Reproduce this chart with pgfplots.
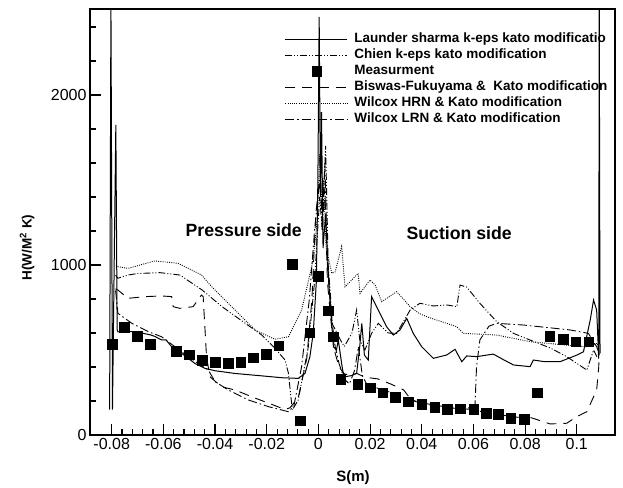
\documentclass[border=0pt]{standalone}
\usepackage{fontspec}
\setmainfont{Liberation Sans}
\usepackage{pgfplots}
\pgfplotsset{compat=1.18}
\pgfplotsset{
  square legend/.style={legend image code/.code={%
    \path (0bp,0bp) (62bp,0bp);
    \draw[##1] plot coordinates {(31bp,0bp)};}},
}

% Heat transfer coefficient along the blade surface
\pgfplotstableread{
s H
-0.0798 535
-0.0751 634
-0.0701 582
-0.0651 535
-0.0550 492
-0.0500 471
-0.0449 439
-0.0399 428
-0.0349 422
-0.0300 428
-0.0252 453
-0.0202 475
-0.0153 524
-0.0101 1004
-0.0070 84
-0.0033 602
0.0000 935
0.0038 731
0.0058 578
0.0087 328
0.0151 300
0.0200 280
0.0249 249
0.0297 222
0.0348 196
0.0400 181
0.0449 163
0.0499 151
0.0549 156
0.0600 151
0.0650 128
0.0696 122
0.0745 98
0.0797 92
0.0847 250
0.0896 582
0.0948 563
0.0997 549
0.1047 549
}\measured

\begin{document}
\begin{tikzpicture}
\begin{axis}[
  at={(0,0)}, anchor=south west,
  scale only axis, width=525bp, height=426bp,
  xmin=-0.0884, xmax=0.1148, ymin=0, ymax=2506,
  axis line style={line width=1.5bp},
  tick align=inside, xtick pos=bottom, ytick pos=left,
  xtick={-0.08,-0.06,-0.04,-0.02,0,0.02,0.04,0.06,0.08,0.1},
  xticklabels={-0.08,-0.06,-0.04,-0.02,0,0.02,0.04,0.06,0.08,0.1},
  minor x tick num=4,
  ytick={0,1000,2000}, yticklabels={0,1000,2000},
  minor ytick={200,400,600,800,1200,1400,1600,1800,2200,2400},
  major tick length=11bp, minor tick length=6bp,
  every tick/.style={line width=1.1bp, black},
  ticklabel style={font=\fontsize{16bp}{19bp}\selectfont},
  xlabel={S(m)},
  ylabel={H(W/M\textsuperscript{2} K)},
  xlabel style={font=\bfseries\fontsize{15bp}{18bp}\selectfont, at={(axis description cs:0.501,-0.101)}, anchor=center},
  ylabel style={font=\bfseries\fontsize{13.5bp}{16bp}\selectfont, at={(axis description cs:-0.12,0.44)}, anchor=center},
  legend style={at={(rel axis cs:0.3714,0.948)}, anchor=north west, draw=none, fill=none,
    inner sep=0pt, outer sep=0pt, column sep=5bp, row sep=0bp,
    font=\bfseries\fontsize{13.5bp}{16bp}\selectfont,
    nodes={inner sep=1.5bp, text height=10bp, text depth=3bp}},
  legend cell align=left,
  legend image code/.code={\draw[#1] (0bp,0bp) -- (62bp,0bp);},
]

% Launder-Sharma k-eps
\addplot[black, line width=1bp] coordinates {
(-0.0808,150) (-0.0803,2550) (-0.0797,150) (-0.0784,1824) (-0.0779,620)
(-0.0776,607) (-0.0737,610) (-0.0700,605) (-0.0686,600) (-0.0652,590)
(-0.0633,580) (-0.0607,559) (-0.0590,560) (-0.0568,519) (-0.0550,510)
(-0.0529,480) (-0.0478,421) (-0.0439,392) (-0.0400,378) (-0.0323,362)
(-0.0220,348) (-0.0142,337) (-0.0078,333) (-0.0052,362) (-0.0033,460)
(-0.0020,598) (-0.0008,900) (-0.0002,1500) (0.0003,2460) (0.0008,1400)
(0.0012,1900) (0.0018,1100) (0.0028,1300) (0.0040,900) (0.0058,519)
(0.0070,500) (0.0077,559) (0.0090,420) (0.0096,363) (0.0105,343)
(0.0130,350) (0.0148,363) (0.0160,520) (0.0168,657) (0.0178,470)
(0.0193,441) (0.0206,814) (0.0238,716) (0.0264,637) (0.0290,588)
(0.0316,618) (0.0342,686) (0.0367,598) (0.0400,519) (0.0445,451)
(0.0497,471) (0.0529,504) (0.0555,431) (0.0574,465) (0.0613,461)
(0.0677,476) (0.0720,440) (0.0755,412) (0.0819,402) (0.0832,441)
(0.0877,431) (0.0935,431) (0.1000,470) (0.1026,490) (0.1052,676)
(0.1065,794) (0.1077,735) (0.1082,559) (0.1085,450) (0.1087,2550)
(0.1090,480)
};
\addlegendentry{Launder sharma k-eps kato modificatio}

% Chien k-eps
\addplot[black, line width=0.9bp, dash pattern=on 7bp off 2bp on 1bp off 2bp on 1bp off 2bp] coordinates {
(-0.0785,940) (-0.0776,922) (-0.0737,941) (-0.0700,950) (-0.0613,955)
(-0.0536,941) (-0.0450,853) (-0.0373,755) (-0.0283,657) (-0.0219,588)
(-0.0168,510) (-0.0129,441) (-0.0116,363) (-0.0101,147) (-0.0078,206)
(-0.0039,519) (-0.0015,900) (0.0005,1400) (0.0015,1200) (0.0028,1700)
(0.0038,1000) (0.0055,650) (0.0085,560) (0.0100,520) (0.0130,600)
(0.0148,735) (0.0160,560) (0.0180,500) (0.0206,598) (0.0232,657)
(0.0270,600) (0.0303,598) (0.0355,735) (0.0393,775) (0.0445,759)
(0.0497,765) (0.0536,755) (0.0548,882) (0.0574,870) (0.0625,775)
(0.0690,667) (0.0755,598) (0.0819,559) (0.0900,510) (0.0961,461)
(0.1039,382) (0.1065,500) (0.1078,460) (0.1087,480)
};
\addlegendentry{Chien k-eps kato modification}

% Measured values
\addplot[only marks, mark=square*, mark size=4.7bp, mark options={fill=black, draw=black}, square legend]
  table[x=s, y=H] {\measured};
\addlegendentry{Measurment}

% Biswas-Fukuyama
\addplot[black, line width=0.9bp, dash pattern=on 10bp off 7bp] coordinates {
(-0.0785,860) (-0.0776,853) (-0.0737,804) (-0.0670,814) (-0.0607,818)
(-0.0568,814) (-0.0562,755) (-0.0536,745) (-0.0485,755) (-0.0453,823)
(-0.0446,815) (-0.0433,461) (-0.0420,343) (-0.0375,284) (-0.0323,265)
(-0.0250,220) (-0.0180,180) (-0.0130,150) (-0.0110,160) (-0.0078,220)
(-0.0045,450) (-0.0025,800) (-0.0010,1300) (0.0008,1550) (0.0015,1200)
(0.0025,1450) (0.0035,900) (0.0050,650) (0.0065,480) (0.0080,400)
(0.0100,360) (0.0125,350) (0.0148,363) (0.0180,340) (0.0230,330)
(0.0280,300) (0.0330,265) (0.0360,205) (0.0400,185) (0.0450,170)
(0.0500,160) (0.0550,155) (0.0600,150) (0.0650,130) (0.0700,122)
(0.0750,105) (0.0819,104) (0.0897,65) (0.0961,69) (0.1000,108)
(0.1039,137) (0.1077,265) (0.1085,400) (0.1087,480)
};
\addlegendentry{Biswas-Fukuyama \&\ \ Kato modification}

% Wilcox high Reynolds number
\addplot[black, line width=0.9bp, dash pattern=on 0.9bp off 1.3bp] coordinates {
(-0.0783,1000) (-0.0776,990) (-0.0737,980) (-0.0633,1024) (-0.0543,1010)
(-0.0452,941) (-0.0413,872) (-0.0323,735) (-0.0245,618) (-0.0168,563)
(-0.0116,578) (-0.0065,735) (-0.0026,990) (-0.0013,1128) (-0.0003,1300)
(0.0005,1650) (0.0012,1350) (0.0020,1500) (0.0030,1100) (0.0052,951)
(0.0065,960) (0.0090,1108) (0.0103,872) (0.0154,951) (0.0161,833)
(0.0200,912) (0.0220,880) (0.0245,784) (0.0303,843) (0.0355,755)
(0.0390,715) (0.0419,696) (0.0535,637) (0.0561,598) (0.0690,588)
(0.0819,549) (0.0950,530) (0.1039,519) (0.1080,540) (0.1087,480)
};
\addlegendentry{Wilcox HRN \& Kato modification}

% Wilcox low Reynolds number
\addplot[black, line width=0.9bp, dash pattern=on 9bp off 3bp on 1.5bp off 3bp] coordinates {
(-0.0785,850) (-0.0776,716) (-0.0722,657) (-0.0658,608) (-0.0607,578)
(-0.0555,519) (-0.0504,461) (-0.0465,421) (-0.0426,382) (-0.0400,314)
(-0.0349,265) (-0.0271,206) (-0.0194,167) (-0.0116,137) (-0.0095,170)
(-0.0065,402) (-0.0035,800) (-0.0015,1200) (0.0005,1500) (0.0015,1250)
(0.0025,1600) (0.0035,1000) (0.0050,700) (0.0065,520) (0.0080,420)
(0.0100,330) (0.0120,300) (0.0140,380) (0.0155,520) (0.0170,350)
(0.0190,290) (0.0220,280) (0.0260,260) (0.0300,240) (0.0350,210)
(0.0400,190) (0.0450,175) (0.0500,165) (0.0550,160) (0.0600,160)
(0.0606,167) (0.0612,400) (0.0625,559) (0.0660,640) (0.0690,657)
(0.0793,647) (0.0900,630) (0.0974,618) (0.1045,598) (0.1077,519)
(0.1087,480)
};
\addlegendentry{Wilcox LRN \& Kato modification}

\node[font=\bfseries\fontsize{17.7bp}{20bp}\selectfont] at (axis cs:-0.0289,1206) {Pressure side};
\node[font=\bfseries\fontsize{17.7bp}{20bp}\selectfont] at (axis cs:0.0545,1186) {Suction side};
\end{axis}
\pgfresetboundingbox
\path[use as bounding box] (-90bp,-53bp) rectangle (533bp,435bp);
\end{tikzpicture}
\end{document}
